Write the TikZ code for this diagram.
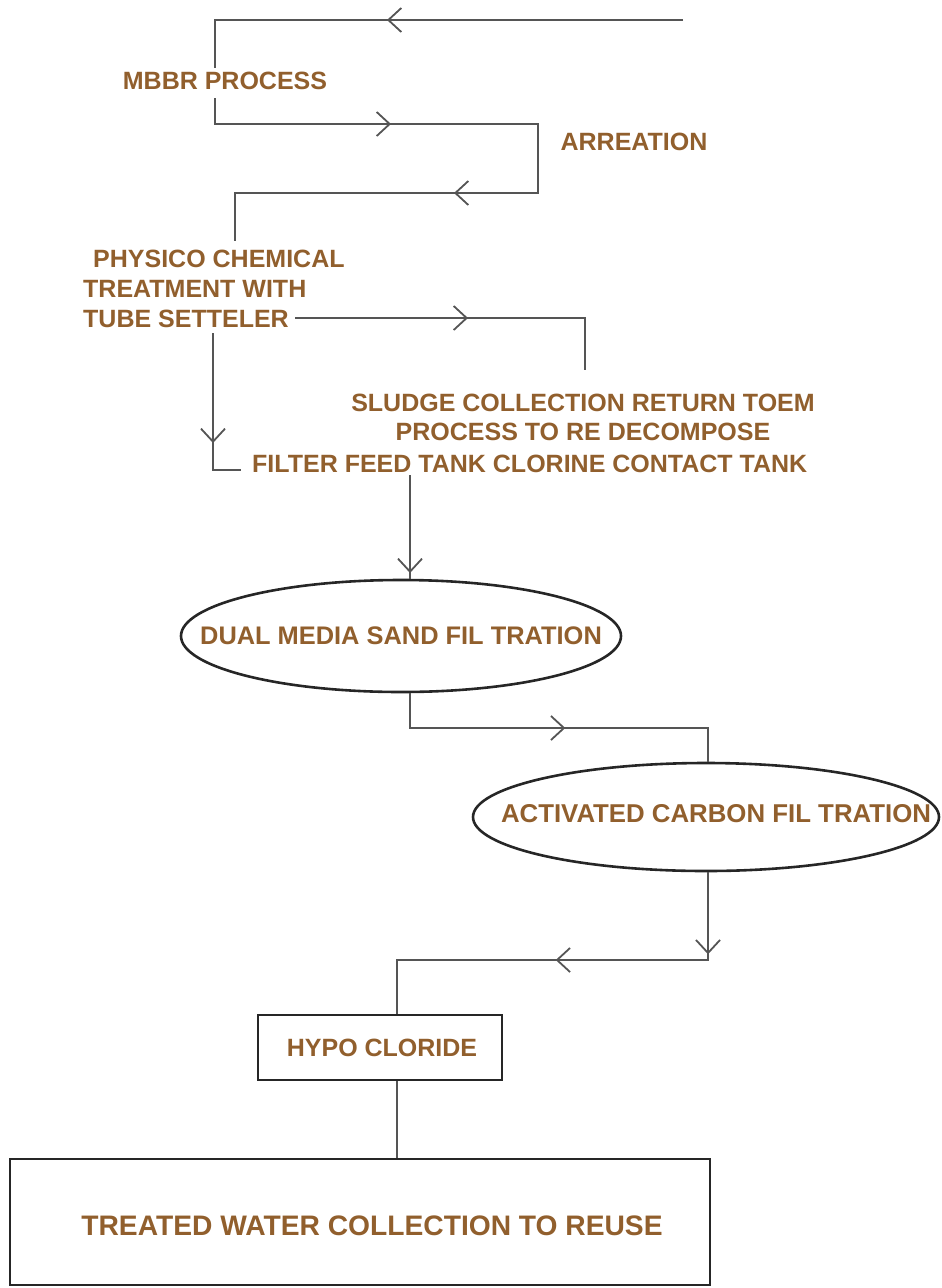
\documentclass[tikz,border=0pt]{standalone}
\usepackage{fontspec}
\setmainfont{Liberation Sans}
\usetikzlibrary{arrows.meta,shapes.geometric,decorations.markings}
\definecolor{labelbrown}{RGB}{145,95,45}
\definecolor{wire}{RGB}{85,85,85}
\begin{document}
\begin{tikzpicture}[x=1pt,y=-1pt,
  lbl/.style={font=\fontsize{25}{30}\selectfont\bfseries, text=labelbrown, inner sep=0pt},
  wireline/.style={draw=wire, line width=1.8pt},
  tipat/.style={postaction={decorate, decoration={markings,
      mark=at position #1 with {\arrow{Straight Barb[length=13pt,width=24pt,line width=1.8pt]}}}}},
  outline/.style={draw=black!85, line width=2.6pt, inner sep=0pt},
]
\useasboundingbox (0,0) rectangle (942,1288);

% process labels
\node[lbl] (mbbr) at (225,81) {MBBR PROCESS};
\node[lbl] (aer) at (634,142) {ARREATION};
\node[lbl, anchor=west] (phys1) at (93,259) {PHYSICO CHEMICAL};
\node[lbl, anchor=west] (phys2) at (83,289) {TREATMENT WITH};
\node[lbl, anchor=west] (phys3) at (83,319) {TUBE SETTELER};
\node[lbl, align=center] (sludge) at (583,417) {SLUDGE COLLECTION RETURN TOEM\\[-1pt]PROCESS TO RE DECOMPOSE};
\node[lbl, anchor=west] (filter) at (252,464) {FILTER FEED TANK CLORINE CONTACT TANK};

% treatment units
\node[ellipse, outline, minimum width=440, minimum height=112,
      label={[lbl, font=\fontsize{25.4}{30}\selectfont\bfseries]center:DUAL MEDIA SAND FIL TRATION}] (dms) at (401,636) {};
\node[ellipse, outline, minimum width=466, minimum height=108,
      label={[lbl, font=\fontsize{25.8}{30}\selectfont\bfseries, xshift=10pt, yshift=3pt]center:ACTIVATED CARBON FIL TRATION}] (acf) at (706,817) {};
\node[rectangle, outline, minimum width=244, minimum height=65,
      label={[lbl, xshift=2pt]center:HYPO CLORIDE}] (hypo) at (380,1047.5) {};
\node[rectangle, outline, minimum width=700, minimum height=126,
      label={[lbl, font=\fontsize{28.2}{32}\selectfont\bfseries, xshift=12pt, yshift=-4pt]center:TREATED WATER COLLECTION TO REUSE}] (reuse) at (360,1222) {};

% route points
\coordinate (in) at (683,20);
\coordinate (a1) at (215,20);
\coordinate (a2) at (215,68);
\coordinate (b0) at (215,98);
\coordinate (b1) at (215,124);
\coordinate (b2) at (538,124);
\coordinate (b3) at (538,193);
\coordinate (b4) at (235,193);
\coordinate (b5) at (235,241);
\coordinate (s0) at (295,318);
\coordinate (s1) at (585,318);
\coordinate (s2) at (585,370);
\coordinate (f0) at (213,333);
\coordinate (f1) at (213,470);
\coordinate (f2) at (241,470);
\coordinate (d0) at (410,475);
\coordinate (e1) at (410,728);
\coordinate (e2) at (708,728);
\coordinate (g1) at (708,960);
\coordinate (g2) at (397,960);

% connectors
\draw[wireline, tipat=296pt] (in) -- (a1) -- (a2);
\draw[wireline, tipat=202pt, tipat=502pt] (b0) -- (b1) -- (b2) -- (b3) -- (b4) -- (b5);
\draw[wireline, tipat=173pt] (s0) -- (s1) -- (s2);
\draw[wireline, tipat=110pt] (f0) -- (f1) -- (f2);
\draw[wireline, tipat=98pt] (d0) -- (d0 |- dms.north);
\draw[wireline, tipat=190pt] (dms.south -| e1) -- (e1) -- (e2) -- (acf.north -| e2);
\draw[wireline, tipat=82pt, tipat=240pt] (acf.south -| g1) -- (g1) -- (g2) -- (g2 |- hypo.north);
\draw[wireline] (hypo.south -| g2) -- (g2 |- reuse.north);
\end{tikzpicture}
\end{document}
